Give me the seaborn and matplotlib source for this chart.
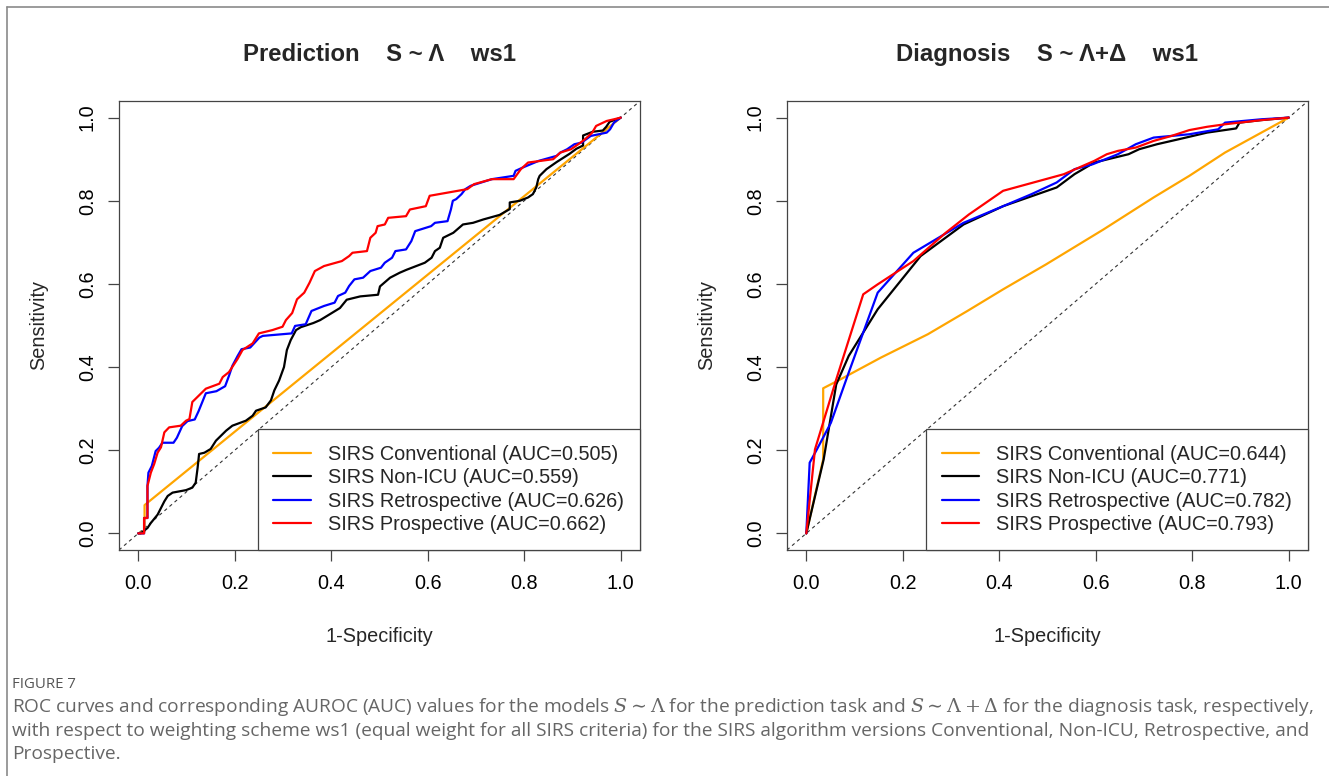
import numpy as np
import pandas as pd
import matplotlib
matplotlib.use("Agg")
import matplotlib.pyplot as plt
from matplotlib.lines import Line2D
import seaborn as sns

# ---------------- data (1-specificity, sensitivity) ----------------
series_names = ["SIRS Conventional", "SIRS Non-ICU", "SIRS Retrospective", "SIRS Prospective"]
series_colors = ["#FFA500", "#000000", "#0000FF", "#FF0000"]

pred_auc = [0.505, 0.559, 0.626, 0.662]
diag_auc = [0.644, 0.771, 0.782, 0.793]

# Prediction task  S ~ Lambda
pred_conv_x = [0.0, 0.013, 0.013, 1.0]
pred_conv_y = [0.0, 0.005, 0.068, 1.0]

pred_nonicu_x = [0.0, 0.005, 0.019, 0.026, 0.040, 0.047, 0.054, 0.061, 0.071, 0.099, 0.112, 0.119, 0.123,
                 0.126, 0.137, 0.150, 0.161, 0.168, 0.182, 0.195, 0.223, 0.237, 0.244, 0.264, 0.275, 0.282,
                 0.292, 0.302, 0.308, 0.316, 0.327, 0.337, 0.363, 0.377, 0.394, 0.418, 0.432, 0.460, 0.497,
                 0.501, 0.522, 0.542, 0.556, 0.594, 0.608, 0.615, 0.625, 0.632, 0.653, 0.673, 0.694, 0.715,
                 0.749, 0.770, 0.770, 0.791, 0.808, 0.818, 0.825, 0.829, 0.832, 0.846, 0.867, 0.894, 0.908,
                 0.922, 0.922, 0.942, 0.963, 0.970, 0.977, 0.984, 1.0]
pred_nonicu_y = [0.0, 0.0, 0.013, 0.025, 0.045, 0.061, 0.077, 0.090, 0.098, 0.104, 0.110, 0.122, 0.158,
                 0.191, 0.194, 0.203, 0.223, 0.231, 0.247, 0.259, 0.271, 0.283, 0.295, 0.303, 0.320, 0.344,
                 0.368, 0.400, 0.441, 0.465, 0.489, 0.496, 0.506, 0.513, 0.525, 0.542, 0.562, 0.570, 0.574,
                 0.594, 0.615, 0.627, 0.634, 0.651, 0.663, 0.679, 0.687, 0.711, 0.723, 0.743, 0.747, 0.755,
                 0.766, 0.780, 0.796, 0.800, 0.808, 0.816, 0.832, 0.852, 0.860, 0.876, 0.893, 0.913, 0.925,
                 0.933, 0.957, 0.966, 0.969, 0.978, 0.990, 0.993, 1.0]

pred_retro_x = [0.0, 0.012, 0.012, 0.019, 0.019, 0.021, 0.028, 0.036, 0.043, 0.050, 0.073, 0.080, 0.091,
                0.102, 0.117, 0.125, 0.140, 0.162, 0.180, 0.188, 0.195, 0.206, 0.214, 0.232, 0.251, 0.258,
                0.318, 0.325, 0.347, 0.359, 0.385, 0.407, 0.414, 0.429, 0.437, 0.448, 0.466, 0.481, 0.503,
                0.511, 0.526, 0.533, 0.555, 0.566, 0.574, 0.607, 0.615, 0.641, 0.648, 0.652, 0.659, 0.670,
                0.678, 0.689, 0.733, 0.778, 0.782, 0.797, 0.830, 0.867, 0.875, 0.889, 0.904, 0.919, 0.938,
                0.971, 0.978, 0.986, 1.0]
pred_retro_y = [0.0, 0.0, 0.037, 0.037, 0.114, 0.146, 0.162, 0.198, 0.206, 0.218, 0.218, 0.230, 0.258,
                0.270, 0.274, 0.294, 0.337, 0.342, 0.354, 0.379, 0.403, 0.427, 0.443, 0.447, 0.471, 0.475,
                0.481, 0.499, 0.503, 0.535, 0.547, 0.555, 0.571, 0.579, 0.595, 0.611, 0.615, 0.631, 0.639,
                0.651, 0.663, 0.679, 0.683, 0.703, 0.727, 0.739, 0.747, 0.751, 0.779, 0.800, 0.804, 0.816,
                0.828, 0.836, 0.852, 0.860, 0.872, 0.880, 0.896, 0.908, 0.916, 0.924, 0.936, 0.940, 0.956,
                0.964, 0.972, 0.988, 1.0]

pred_prosp_x = [0.0, 0.012, 0.012, 0.019, 0.019, 0.026, 0.033, 0.040, 0.047, 0.054, 0.064, 0.088, 0.099,
                0.106, 0.112, 0.119, 0.140, 0.168, 0.175, 0.188, 0.206, 0.216, 0.237, 0.250, 0.278, 0.299,
                0.306, 0.319, 0.329, 0.344, 0.355, 0.366, 0.385, 0.422, 0.437, 0.444, 0.474, 0.481, 0.492,
                0.496, 0.511, 0.518, 0.555, 0.563, 0.596, 0.604, 0.682, 0.696, 0.733, 0.778, 0.793, 0.808,
                0.860, 0.875, 0.897, 0.912, 0.926, 0.941, 0.949, 0.971, 0.986, 1.0]
pred_prosp_y = [0.0, 0.0, 0.037, 0.037, 0.114, 0.146, 0.167, 0.194, 0.207, 0.243, 0.255, 0.259, 0.271,
                0.275, 0.316, 0.324, 0.348, 0.360, 0.376, 0.388, 0.420, 0.441, 0.457, 0.481, 0.489, 0.497,
                0.513, 0.530, 0.563, 0.579, 0.603, 0.631, 0.643, 0.655, 0.667, 0.675, 0.679, 0.711, 0.723,
                0.739, 0.743, 0.759, 0.763, 0.779, 0.787, 0.812, 0.828, 0.840, 0.852, 0.852, 0.876, 0.892,
                0.900, 0.916, 0.924, 0.936, 0.948, 0.964, 0.980, 0.992, 0.996, 1.0]

# Diagnosis task  S ~ Lambda + Delta
diag_conv_x = [0.0, 0.035, 0.035, 0.070, 0.155, 0.252, 0.334, 0.408, 0.497, 0.616, 0.720, 0.794, 0.868, 1.0]
diag_conv_y = [0.0, 0.178, 0.349, 0.370, 0.423, 0.479, 0.535, 0.587, 0.647, 0.731, 0.808, 0.860, 0.916, 1.0]

diag_nonicu_x = [0.0, 0.036, 0.062, 0.088, 0.148, 0.237, 0.326, 0.408, 0.519, 0.556, 0.597, 0.668, 0.690,
                 0.727, 0.772, 0.831, 0.891, 0.898, 0.943, 1.0]
diag_nonicu_y = [0.0, 0.178, 0.358, 0.427, 0.539, 0.667, 0.743, 0.787, 0.832, 0.864, 0.892, 0.912, 0.924,
                 0.936, 0.948, 0.964, 0.974, 0.988, 0.994, 1.0]

diag_retro_x = [0.0, 0.007, 0.022, 0.051, 0.088, 0.148, 0.222, 0.326, 0.408, 0.467, 0.519, 0.556, 0.594,
                0.646, 0.683, 0.720, 0.794, 0.854, 0.868, 0.943, 1.0]
diag_retro_y = [0.0, 0.170, 0.202, 0.266, 0.387, 0.579, 0.675, 0.747, 0.787, 0.816, 0.844, 0.876, 0.888,
                0.912, 0.936, 0.952, 0.960, 0.972, 0.988, 0.996, 1.0]

diag_prosp_x = [0.0, 0.018, 0.062, 0.118, 0.148, 0.222, 0.289, 0.337, 0.408, 0.534, 0.597, 0.623, 0.646,
                0.683, 0.720, 0.757, 0.794, 0.831, 0.868, 0.943, 1.0]
diag_prosp_y = [0.0, 0.202, 0.370, 0.575, 0.599, 0.655, 0.723, 0.767, 0.824, 0.864, 0.896, 0.912, 0.920,
                0.928, 0.944, 0.956, 0.970, 0.978, 0.984, 0.994, 1.0]

panel_titles = ["Prediction    S ~ \u039b    ws1", "Diagnosis    S ~ \u039b+\u0394    ws1"]
tick_values = [0.0, 0.2, 0.4, 0.6, 0.8, 1.0]
tick_labels = ["0.0", "0.2", "0.4", "0.6", "0.8", "1.0"]

caption_head = "FIGURE 7"
caption_lines = [
    r"ROC curves and corresponding AUROC (AUC) values for the models $S\sim\Lambda$ for the prediction task and $S\sim\Lambda+\Delta$ for the diagnosis task, respectively,",
    "with respect to weighting scheme ws1 (equal weight for all SIRS criteria) for the SIRS algorithm versions Conventional, Non-ICU, Retrospective, and",
    "Prospective.",
]

panels = [
    (panel_titles[0], pred_auc, [(pred_conv_x, pred_conv_y), (pred_nonicu_x, pred_nonicu_y),
                                 (pred_retro_x, pred_retro_y), (pred_prosp_x, pred_prosp_y)]),
    (panel_titles[1], diag_auc, [(diag_conv_x, diag_conv_y), (diag_nonicu_x, diag_nonicu_y),
                                 (diag_retro_x, diag_retro_y), (diag_prosp_x, diag_prosp_y)]),
]

# ---------------- style ----------------
sns.set_theme(style="white")
plt.rcParams["font.family"] = ["Liberation Sans", "DejaVu Sans"]
plt.rcParams["mathtext.fontset"] = "dejavuserif"

W, H = 1329, 776
fig = plt.figure(figsize=(W / 100, H / 100), dpi=100)
fig.patch.set_facecolor("white")

def fx(px):
    return px / W

def fy(py):
    return 1 - py / H

ax_boxes = [(119, 640), (787, 1308)]
top_px, bot_px = 101, 550
FS = 14.3

for (title, aucs, curves), (l, r) in zip(panels, ax_boxes):
    ax = fig.add_axes([fx(l), fy(bot_px), fx(r) - fx(l), fy(top_px) - fy(bot_px)])
    ax.set_facecolor("white")
    ax.axline((0, 0), (1, 1), color="#333333", lw=0.8, ls=(0, (3, 3)), zorder=1)
    for (xs, ys), col in zip(curves, series_colors):
        df = pd.DataFrame({"fpr": xs, "tpr": ys})
        sns.lineplot(data=df, x="fpr", y="tpr", sort=False, estimator=None, color=col,
                     lw=1.6, ax=ax, zorder=3)
    ax.set_xlim(-0.04, 1.04)
    ax.set_ylim(-0.04, 1.04)
    ax.set_xticks(tick_values)
    ax.set_xticklabels(tick_labels)
    ax.set_yticks(tick_values)
    ax.set_yticklabels(tick_labels, rotation=90, va="center")
    ax.tick_params(axis="both", direction="out", length=8, width=0.9, colors="#444444",
                   labelcolor="black", labelsize=FS, left=True, bottom=True)
    ax.tick_params(axis="x", pad=9)
    ax.tick_params(axis="y", pad=8)
    for sp in ax.spines.values():
        sp.set_visible(True)
        sp.set_color("#444444")
        sp.set_linewidth(0.9)
    ax.set_xlabel("1-Specificity", fontsize=FS, labelpad=25)
    ax.set_ylabel("Sensitivity", fontsize=FS, labelpad=21)
    ax.set_title(title, fontsize=17.2, fontweight="bold", pad=29)
    handles = [Line2D([0], [0], color=c, lw=1.6) for c in series_colors]
    labels = [f"{n} (AUC={a:.3f})" for n, a in zip(series_names, aucs)]
    leg = ax.legend(handles, labels, loc="lower right", borderaxespad=0, fontsize=FS,
                    frameon=True, fancybox=False, edgecolor="#444444", handlelength=1.9,
                    handletextpad=0.85, labelspacing=0.22, borderpad=0.8)
    leg.get_frame().set_linewidth(0.9)
    leg.get_frame().set_alpha(1.0)
    leg.set_zorder(5)

# outer frame lines (top and left)
fig.add_artist(Line2D([fx(7), fx(7)], [0, fy(7)], color="#8a8a8a", lw=1.2))
fig.add_artist(Line2D([fx(7), 1], [fy(7), fy(7)], color="#8a8a8a", lw=1.2))

# caption
fig.text(fx(12), fy(684), caption_head, fontsize=10.8, color="#555555", va="center", ha="left",
         family=["Open Sans", "DejaVu Sans"])
for i, line in enumerate(caption_lines):
    fig.text(fx(12), fy(707 + i * 23.5), line, fontsize=13.8, color="#666666", va="center", ha="left",
             family=["Open Sans", "DejaVu Sans"])

fig.savefig("out.png", dpi=100, facecolor="white")
